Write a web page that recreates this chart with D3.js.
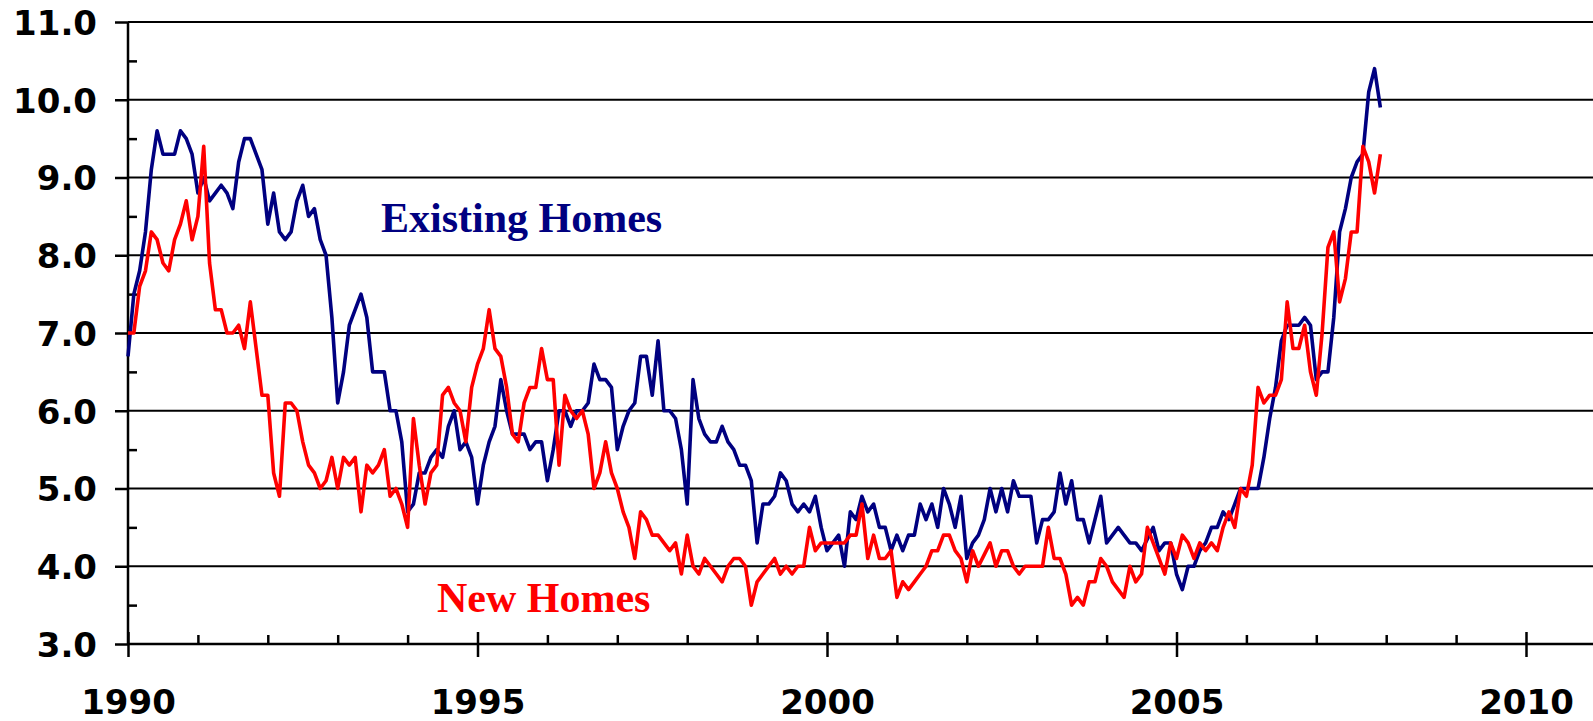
<!DOCTYPE html>
<html lang="en">
  <head>
    <meta charset="utf-8">
    <title>Months' Supply of Homes</title>
    <style>
      body, html { margin:0; padding:0; background:#fff; }
      svg { display:block; }
      .axis text { font-family:"DejaVu Sans", Verdana, sans-serif; font-weight:bold; font-size:34px; fill:#000; }
      .axis .domain { display:none; }
      .axis line { stroke:#000; stroke-width:2.5; }
      .grid line { stroke:#000; stroke-width:2.2; }
      .series { fill:none; stroke-width:3.6; stroke-linejoin:round; }
      .series-label { font-family:"Liberation Serif", "Times New Roman", serif; font-weight:bold; font-size:42px; }
    </style>
    <script src="https://cdnjs.cloudflare.com/ajax/libs/d3/7.8.5/d3.min.js"></script>
  </head>
  <body>
    <div id="chart"></div>
<script>
// monthly values, Jan 1990 .. Dec 2007
var startYear = 1990;

var existingHomes = [
  6.7, 7.5, 7.8, 8.3, 9.1, 9.6, 9.3, 9.3, 9.3, 9.6, 9.5, 9.3,   // 1990
  8.8, 9.0, 8.7, 8.8, 8.9, 8.8, 8.6, 9.2, 9.5, 9.5, 9.3, 9.1,   // 1991
  8.4, 8.8, 8.3, 8.2, 8.3, 8.7, 8.9, 8.5, 8.6, 8.2, 8.0, 7.2,   // 1992
  6.1, 6.5, 7.1, 7.3, 7.5, 7.2, 6.5, 6.5, 6.5, 6.0, 6.0, 5.6,   // 1993
  4.7, 4.8, 5.2, 5.2, 5.4, 5.5, 5.4, 5.8, 6.0, 5.5, 5.6, 5.4,   // 1994
  4.8, 5.3, 5.6, 5.8, 6.4, 6.0, 5.7, 5.7, 5.7, 5.5, 5.6, 5.6,   // 1995
  5.1, 5.5, 6.0, 6.0, 5.8, 6.0, 6.0, 6.1, 6.6, 6.4, 6.4, 6.3,   // 1996
  5.5, 5.8, 6.0, 6.1, 6.7, 6.7, 6.2, 6.9, 6.0, 6.0, 5.9, 5.5,   // 1997
  4.8, 6.4, 5.9, 5.7, 5.6, 5.6, 5.8, 5.6, 5.5, 5.3, 5.3, 5.1,   // 1998
  4.3, 4.8, 4.8, 4.9, 5.2, 5.1, 4.8, 4.7, 4.8, 4.7, 4.9, 4.5,   // 1999
  4.2, 4.3, 4.4, 4.0, 4.7, 4.6, 4.9, 4.7, 4.8, 4.5, 4.5, 4.2,   // 2000
  4.4, 4.2, 4.4, 4.4, 4.8, 4.6, 4.8, 4.5, 5.0, 4.8, 4.5, 4.9,   // 2001
  4.1, 4.3, 4.4, 4.6, 5.0, 4.7, 5.0, 4.7, 5.1, 4.9, 4.9, 4.9,   // 2002
  4.3, 4.6, 4.6, 4.7, 5.2, 4.8, 5.1, 4.6, 4.6, 4.3, 4.6, 4.9,   // 2003
  4.3, 4.4, 4.5, 4.4, 4.3, 4.3, 4.2, 4.35, 4.5, 4.2, 4.3, 4.3,  // 2004
  3.9, 3.7, 4.0, 4.0, 4.2, 4.3, 4.5, 4.5, 4.7, 4.6, 4.8, 5.0,   // 2005
  5.0, 5.0, 5.0, 5.4, 5.9, 6.3, 6.9, 7.1, 7.1, 7.1, 7.2, 7.1,   // 2006
  6.4, 6.5, 6.5, 7.2, 8.3, 8.6, 9.0, 9.2, 9.3, 10.1, 10.4, 9.9  // 2007
];

var newHomes = [
  7.0, 7.0, 7.6, 7.8, 8.3, 8.2, 7.9, 7.8, 8.2, 8.4, 8.7, 8.2,   // 1990
  8.5, 9.4, 7.9, 7.3, 7.3, 7.0, 7.0, 7.1, 6.8, 7.4, 6.8, 6.2,   // 1991
  6.2, 5.2, 4.9, 6.1, 6.1, 6.0, 5.6, 5.3, 5.2, 5.0, 5.1, 5.4,   // 1992
  5.0, 5.4, 5.3, 5.4, 4.7, 5.3, 5.2, 5.3, 5.5, 4.9, 5.0, 4.8,   // 1993
  4.5, 5.9, 5.3, 4.8, 5.2, 5.3, 6.2, 6.3, 6.1, 6.0, 5.6, 6.3,   // 1994
  6.6, 6.8, 7.3, 6.8, 6.7, 6.3, 5.7, 5.6, 6.1, 6.3, 6.3, 6.8,   // 1995
  6.4, 6.4, 5.3, 6.2, 6.0, 5.9, 6.0, 5.7, 5.0, 5.2, 5.6, 5.2,   // 1996
  5.0, 4.7, 4.5, 4.1, 4.7, 4.6, 4.4, 4.4, 4.3, 4.2, 4.3, 3.9,   // 1997
  4.4, 4.0, 3.9, 4.1, 4.0, 3.9, 3.8, 4.0, 4.1, 4.1, 4.0, 3.5,   // 1998
  3.8, 3.9, 4.0, 4.1, 3.9, 4.0, 3.9, 4.0, 4.0, 4.5, 4.2, 4.3,   // 1999
  4.3, 4.3, 4.3, 4.3, 4.4, 4.4, 4.8, 4.1, 4.4, 4.1, 4.1, 4.2,   // 2000
  3.6, 3.8, 3.7, 3.8, 3.9, 4.0, 4.2, 4.2, 4.4, 4.4, 4.2, 4.1,   // 2001
  3.8, 4.2, 4.0, 4.15, 4.3, 4.0, 4.2, 4.2, 4.0, 3.9, 4.0, 4.0,  // 2002
  4.0, 4.0, 4.5, 4.1, 4.1, 3.9, 3.5, 3.6, 3.5, 3.8, 3.8, 4.1,   // 2003
  4.0, 3.8, 3.7, 3.6, 4.0, 3.8, 3.9, 4.5, 4.3, 4.1, 3.9, 4.3,   // 2004
  4.1, 4.4, 4.3, 4.1, 4.3, 4.2, 4.3, 4.2, 4.5, 4.7, 4.5, 5.0,   // 2005
  4.9, 5.3, 6.3, 6.1, 6.2, 6.2, 6.4, 7.4, 6.8, 6.8, 7.1, 6.5,   // 2006
  6.2, 7.0, 8.1, 8.3, 7.4, 7.7, 8.3, 8.3, 9.4, 9.2, 8.8, 9.3    // 2007
];

var yTicks = [3, 4, 5, 6, 7, 8, 9, 10, 11];
var yMinorTicks = [3.5, 4.5, 5.5, 6.5, 7.5, 8.5, 9.5, 10.5];
var xTicks = [1990, 1995, 2000, 2005, 2010];
var xMinorTicks = d3.range(1991, 2010).filter(function(v){ return v % 5 != 0; });

var width = 1593, height = 721;
var x = d3.scaleLinear().domain([1990, 2010]).range([128, 1526]);
var y = d3.scaleLinear().domain([3, 11]).range([644, 22]);

var svg = d3.select('#chart').append('svg')
  .attr('width', width)
  .attr('height', height);

svg.append('rect').attr('width', width).attr('height', height).attr('fill', '#fff');

// horizontal gridlines (run to the right edge)
svg.append('g').attr('class', 'grid')
  .selectAll('line')
  .data(yTicks.slice(1))
  .enter().append('line')
    .attr('x1', x(1990)).attr('x2', width)
    .attr('y1', function(d){ return y(d); })
    .attr('y2', function(d){ return y(d); });

// y axis: major ticks + labels on the left, minor ticks inside
var yAxis = svg.append('g').attr('class', 'axis')
  .attr('transform', 'translate(' + x(1990) + ',0)')
  .call(d3.axisLeft(y).tickValues(yTicks).tickSize(13).tickPadding(18).tickFormat(d3.format('.1f')));
yAxis.selectAll('text').attr('dy', '0.36em');

svg.append('g').attr('class', 'axis')
  .attr('transform', 'translate(' + x(1990) + ',0)')
  .call(d3.axisRight(y).tickValues(yMinorTicks).tickSize(9).tickFormat(''));

// x axis: major ticks cross the line, minor ticks point up
var xAxis = svg.append('g').attr('class', 'axis')
  .attr('transform', 'translate(0,' + y(3) + ')')
  .call(d3.axisBottom(x).tickValues(xTicks).tickSize(13).tickFormat(d3.format('d')));
xAxis.selectAll('.tick line').attr('y1', -12).attr('y2', 13);
xAxis.selectAll('text').attr('y', 70).attr('dy', 0);

svg.append('g').attr('class', 'axis')
  .attr('transform', 'translate(0,' + y(3) + ')')
  .call(d3.axisTop(x).tickValues(xMinorTicks).tickSize(9).tickFormat(''));

// axis lines
svg.append('line')
  .attr('x1', x(1990)).attr('x2', x(1990))
  .attr('y1', y(11)).attr('y2', y(3))
  .attr('stroke', '#000').attr('stroke-width', 2.5);
svg.append('line')
  .attr('x1', x(1990)).attr('x2', width)
  .attr('y1', y(3)).attr('y2', y(3))
  .attr('stroke', '#000').attr('stroke-width', 2.5);

var line = d3.line()
  .x(function(d, i){ return x(startYear + i / 12); })
  .y(function(d){ return y(d); });

svg.append('path')
  .datum(existingHomes)
  .attr('class', 'series')
  .attr('stroke', '#000080')
  .attr('d', line);

svg.append('path')
  .datum(newHomes)
  .attr('class', 'series')
  .attr('stroke', '#ff0000')
  .attr('d', line);

// series labels
svg.append('text')
  .attr('class', 'series-label')
  .attr('x', 381).attr('y', 232)
  .attr('fill', '#000080')
  .text('Existing Homes');

svg.append('text')
  .attr('class', 'series-label')
  .attr('x', 437).attr('y', 612)
  .attr('fill', '#ff0000')
  .text('New Homes');
</script>
  </body>
</html>
